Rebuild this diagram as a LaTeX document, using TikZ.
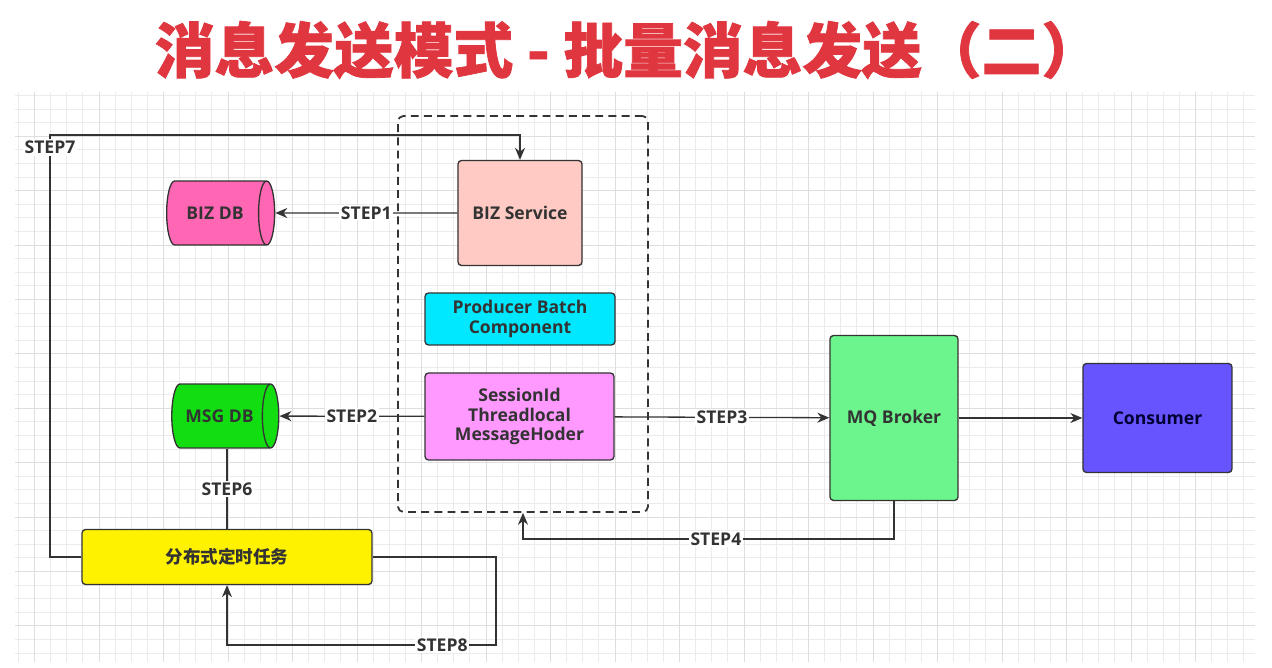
\documentclass[tikz,border=0pt]{standalone}
\usepackage{fontspec}
\setmainfont{Open Sans}
\newfontfamily\cjk{Noto Sans CJK SC}
\newfontfamily\cjkheavy{Noto Sans CJK SC}[BoldFeatures={FakeBold=1.2}]
\usetikzlibrary{arrows.meta, positioning, shapes.geometric}
\definecolor{linecol}{HTML}{333333}
\definecolor{titlered}{HTML}{E0363F}
\definecolor{bizfill}{HTML}{FFCAC3}
\definecolor{bizdbfill}{HTML}{FF66B3}
\definecolor{batchfill}{HTML}{00E8FF}
\definecolor{sessfill}{HTML}{FF99FF}
\definecolor{msgdbfill}{HTML}{11DD11}
\definecolor{mqfill}{HTML}{6CF58C}
\definecolor{consfill}{HTML}{6655FF}
\definecolor{taskfill}{HTML}{FFF200}
\definecolor{gridminor}{HTML}{EBEBEB}
\definecolor{gridmajor}{HTML}{DEDEDE}
\def\gx{16.125}
\def\gy{13.6}

\begin{document}
\begin{tikzpicture}[
    x=0.02cm, y=-0.02cm,
    line width=0.75pt,
    >={Stealth[length=2.4mm,width=2mm]},
    box/.style={draw=linecol, rounded corners=2pt, align=center, text=linecol,
        font=\fontsize{10}{11}\selectfont\bfseries, inner sep=1pt},
    db/.style={cylinder, draw=linecol, aspect=1, text=linecol,
        font=\fontsize{10}{11}\selectfont\bfseries, inner sep=1pt},
    lbl/.style={fill=white, inner sep=1pt, text=linecol,
        font=\fontsize{10}{11}\selectfont\bfseries},
    conn/.style={draw=linecol},
    arr/.style={draw=linecol, ->}
]
\useasboundingbox (0,0) rectangle (1272,668);
\fill[white] (0,0) rectangle (1272,668);

% background grid
\foreach \i in {0,...,76}
    \draw[gridminor, line width=0.5pt] ({18.4+\gx*\i},92) -- ({18.4+\gx*\i},662);
\foreach \j in {0,...,41}
    \draw[gridminor, line width=0.5pt] (15,{95.4+\gy*\j}) -- (1255,{95.4+\gy*\j});
\foreach \i in {1,5,...,76}
    \draw[gridmajor, line width=0.5pt] ({18.4+\gx*\i},92) -- ({18.4+\gx*\i},662);
\foreach \j in {3,7,...,41}
    \draw[gridmajor, line width=0.5pt] (15,{95.4+\gy*\j}) -- (1255,{95.4+\gy*\j});

% title
\node (title) at (628,50) {\cjkheavy\bfseries\fontsize{34}{39}\selectfont\color{titlered}消息发送模式 - 批量消息发送（二）};

% producer frame
\node[draw=linecol, dashed, dash pattern=on 4.5pt off 3pt, rounded corners=3pt,
    line width=1pt, minimum width=5cm, minimum height=7.92cm] (frame) at (523,314) {};

% nodes
\node[box, fill=bizfill, minimum width=2.48cm, minimum height=2.1cm] (biz) at (520,213) {BIZ Service};
\node[box, fill=batchfill, minimum width=3.8cm, minimum height=1.04cm] (batch) at (520,319) {Producer Batch\\Component};
\node[box, fill=sessfill, minimum width=3.78cm, minimum height=1.74cm] (sess) at (519.5,416.5) {SessionId\\Threadlocal\\MessageHoder};
\node[db, fill=bizdbfill, minimum height=2.16cm, minimum width=1.28cm] (bizdb) at (215,213) {BIZ DB};
\node[db, fill=msgdbfill, minimum height=2.14cm, minimum width=1.28cm] (msgdb) at (219.5,416) {MSG DB};
\node[box, fill=mqfill, minimum width=2.56cm, minimum height=3.3cm] (mq) at (894,418) {MQ Broker};
\node[box, fill=consfill, minimum width=2.98cm, minimum height=2.18cm, text=black!80!blue] (cons) at (1157.5,418) {Consumer};
\node[box, fill=taskfill, minimum width=5.8cm, minimum height=1.1cm, font=\cjk\fontsize{10}{11}\selectfont\bfseries] (task) at (227,557) {分布式定时任务};

% connectors
\coordinate (s4) at (523,539);
\coordinate (s7) at (50,135);
\coordinate (s8) at (496,645);
\draw[arr] (biz) -- node[lbl] {STEP1} (bizdb);
\draw[arr] (sess) -- node[lbl] {STEP2} (msgdb);
\draw[arr] (sess) -- node[lbl] {STEP3} (mq);
\draw[arr] (mq) -- (cons);
\draw[arr] (mq.south) |- node[lbl, pos=0.74] {STEP4} (s4) -- (s4 |- frame.south);
\draw[conn] (task.north |- msgdb.south) -- node[lbl] {STEP6} (task.north);
\draw[arr] (task.west) -| node[lbl, pos=0.985] {STEP7} (s7) -| (biz.north);
\draw[arr] (task.east) -| (s8) -| node[lbl, pos=0.1] {STEP8} (task.south);
\end{tikzpicture}
\end{document}
